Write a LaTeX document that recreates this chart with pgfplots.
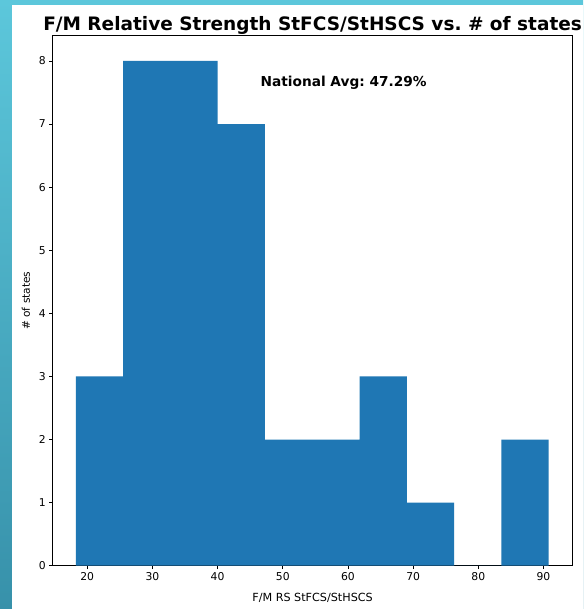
\documentclass[border=0pt]{standalone}
\usepackage{fontspec}
\setmainfont{DejaVu Sans}
\usepackage{pgfplots}
\pgfplotsset{compat=1.18}
\definecolor{mplblue}{HTML}{1F77B4}
\definecolor{slidetop}{RGB}{92,199,219}
\definecolor{slidebot}{RGB}{55,145,170}
\frenchspacing

\begin{document}
\begin{tikzpicture}
% slide background behind the chart
\shade[top color=slidetop, bottom color=slidebot] (-52.7pt,-43.3pt) rectangle (530.3pt,565.7pt);
\fill[white] (-40.7pt,-43.3pt) rectangle (530.3pt,560.7pt);
\begin{axis}[
at={(0,0)}, anchor=south west,
scale only axis,
width=519.8pt,
height=530pt,
xmin=14.7, xmax=94.45,
ymin=0, ymax=8.4,
xtick={20,30,...,90},
ytick={0,1,...,8},
tick pos=left,
tick align=outside,
major tick length=3.5pt,
tick style={black, line width=0.8pt},
axis line style={black, line width=0.8pt},
ticklabel style={font=\fontsize{10.8}{12}\selectfont},
/pgf/number format/assume math mode=true,
xlabel={F/M RS StFCS/StHSCS},
ylabel={\# of states},
xlabel style={font=\fontsize{11.2}{13}\selectfont,
  at={(axis description cs:0.5,0)}, anchor=base, yshift=-35.3pt},
ylabel style={font=\fontsize{10.6}{13}\selectfont,
  at={(axis description cs:-0.0514,0.5)}, anchor=center},
title={F/M Relative Strength StFCS/StHSCS vs. \# of states},
title style={at={(axis description cs:0.5,1)}, anchor=base, yshift=-1.3pt,
  font=\bfseries\fontsize{18.5}{21}\selectfont},
]
\addplot[ybar interval, fill=mplblue, draw=none] coordinates {
(18.25,3) (25.505,8) (32.76,8) (40.015,7) (47.27,2) (54.525,2)
(61.78,3) (69.035,1) (76.29,0) (83.545,2) (90.8,0)
};
\node[anchor=base west, inner sep=0pt, font=\bfseries\fontsize{13.7}{16}\selectfont]
  at (axis cs:46.57,7.59) {National Avg: 47.29\%};
\end{axis}
\pgfresetboundingbox
\path[use as bounding box] (-52.7pt,-43.3pt) rectangle (530.3pt,565.7pt);
\end{tikzpicture}
\end{document}
